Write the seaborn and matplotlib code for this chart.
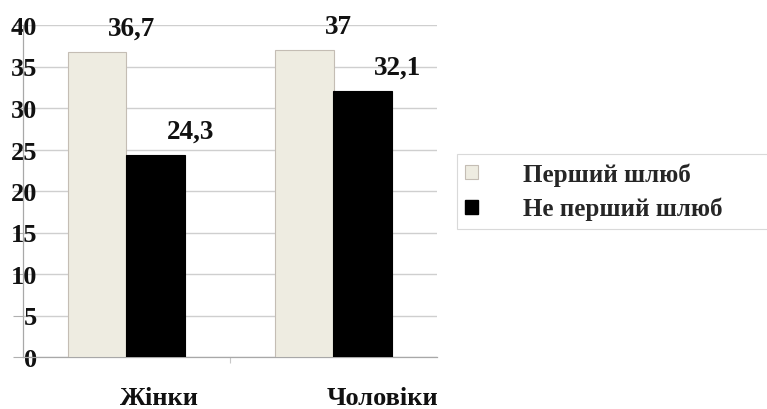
import matplotlib
matplotlib.use("Agg")
import matplotlib.pyplot as plt
import matplotlib.transforms as mtransforms
import seaborn as sns
import pandas as pd
from matplotlib.patches import Patch

categories = ["Жінки", "Чоловіки"]
series_names = ["Перший шлюб", "Не перший шлюб"]
first_marriage = [36.7, 37.0]
not_first_marriage = [24.3, 32.1]
y_ticks = [0, 5, 10, 15, 20, 25, 30, 35, 40]

light = "#eeece1"
dark = "#000000"

df = pd.DataFrame({
    "cat": categories * 2,
    "series": [series_names[0]] * 2 + [series_names[1]] * 2,
    "value": first_marriage + not_first_marriage,
})

sns.set_theme(style="white")
plt.rcParams["font.family"] = ["Liberation Serif", "DejaVu Serif"]
plt.rcParams["font.weight"] = "bold"

fig = plt.figure(figsize=(7.67, 4.10), dpi=100)
ax = fig.add_axes([23 / 767, 1 - 358 / 410, 414 / 767, 332 / 410])

sns.barplot(data=df, x="cat", y="value", hue="series", order=categories,
            hue_order=series_names, palette=[light, dark], width=0.57,
            saturation=1, ax=ax, zorder=3)

edge_cols = ["#c4bdb4", "#000000"]
for cont, ec in zip(ax.containers, edge_cols):
    for p in cont.patches:
        p.set_edgecolor(ec)
        p.set_linewidth(0.8)
    for p, v in zip(cont.patches, cont.datavalues):
        ax.annotate(f"{v:g}".replace(".", ","),
                    (p.get_x() + p.get_width() / 2, p.get_height()),
                    xytext=(25, 12.5), textcoords="offset points",
                    ha="center", va="baseline", fontsize=19.5,
                    fontweight="bold", color="#111111", zorder=5)

ax.set_xlim(-0.5, 1.5)
ax.set_ylim(0, 40)
ax.set_yticks(y_ticks)
ax.set_yticklabels([str(t) for t in y_ticks], fontsize=19, fontweight="bold", color="#111111")
ax.tick_params(axis="y", direction="out", length=7.2, width=0.8, color="#b0b0b0", pad=-17.3, left=True)
ax.yaxis.grid(True, color="#cfcfcf", linewidth=1.0, zorder=0)
ax.set_axisbelow(True)

ax.set_xticks([0, 1])
ax.set_xticklabels(categories, fontsize=19, fontweight="bold", color="#111111")
ax.tick_params(axis="x", length=0, pad=21)
shift = mtransforms.ScaledTranslation(-7 / 100, 0, fig.dpi_scale_trans)
for lbl in ax.get_xticklabels():
    lbl.set_horizontalalignment("left")
    lbl.set_transform(lbl.get_transform() + shift)
ax.set_xticks([0.5], minor=True)
ax.tick_params(axis="x", which="minor", direction="out", length=4, width=0.8, color="#c8c8c8", bottom=True)

ax.set_xlabel("")
ax.set_ylabel("")
for s in ["top", "right"]:
    ax.spines[s].set_visible(False)
ax.spines["left"].set_color("#a8a8a8")
ax.spines["bottom"].set_color("#a8a8a8")
ax.spines["left"].set_linewidth(0.9)
ax.spines["bottom"].set_linewidth(0.9)
ax.spines["left"].set_zorder(4)

ax.get_legend().remove()
handles = [Patch(facecolor=light, edgecolor="#c4bdb4", linewidth=0.8),
           Patch(facecolor=dark, edgecolor=dark)]
x0 = 457 / 767
leg = fig.legend(handles, series_names, loc="upper left",
                 bbox_to_anchor=(x0, 1 - 155 / 410, 1.02 - x0, 0.0), mode="expand",
                 prop={"family": "Liberation Serif", "weight": "bold", "size": 18},
                 frameon=True, fancybox=False, edgecolor="#d0d0d0",
                 handlelength=0.5, handleheight=0.5, handletextpad=1.8,
                 borderpad=0.33, labelspacing=0.45, borderaxespad=0)
leg.get_frame().set_linewidth(0.8)

fig.savefig("out.png", dpi=100)
